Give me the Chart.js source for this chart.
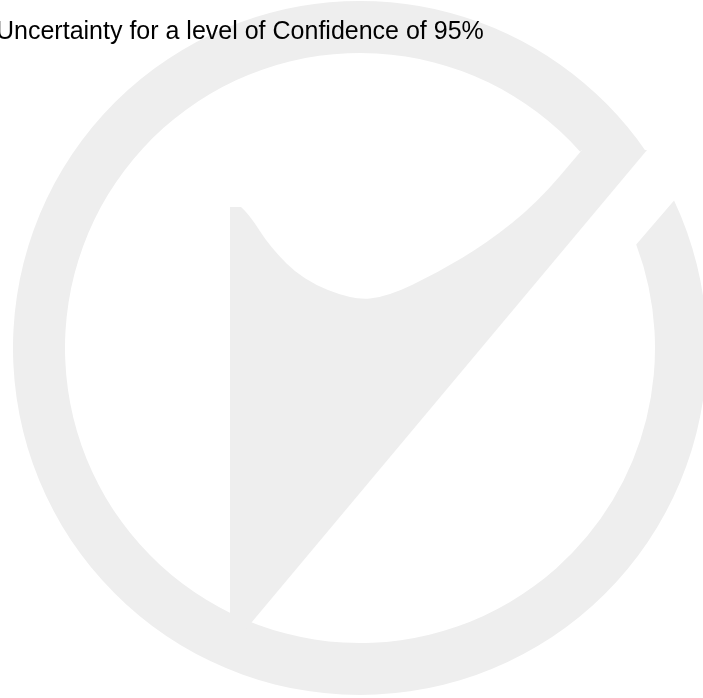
<!DOCTYPE html>
<html>
<head>
<meta charset="utf-8">
<script src="https://cdn.jsdelivr.net/npm/chart.js@4/dist/chart.umd.min.js"></script>
<style>
  html, body { margin: 0; padding: 0; background: #fff; overflow: hidden; }
  #wrap { position: absolute; left: -4px; top: 0; width: 707px; height: 698px; }
</style>
</head>
<body>
<div id="wrap"><canvas id="chart"></canvas></div>
<script>
// the chart has no plotted values, only its title and the logo behind it
const categories = [];
const uncertainty = [];
const chartTitle = 'Uncertainty for a level of Confidence of 95%';

// grey logo drawn behind the (empty) plot
const SHIFT = 4; // wrapper is moved 4px left so the title gets cut like the original
const watermark = {
  id: 'watermark',
  beforeDraw(chart) {
    const ctx = chart.ctx;
    ctx.save();
    ctx.fillStyle = '#ffffff';
    ctx.fillRect(0, 0, chart.width, chart.height);
    ctx.translate(SHIFT, 0);
    ctx.fillStyle = '#eeeeee';

    const cx = 360, cy = 348, R = 347, r = 295;
    const ang = (x, y) => Math.atan2(y - cy, x - cx);

    // ring, open at the upper right
    ctx.beginPath();
    ctx.arc(cx, cy, R, ang(675, 200), ang(647, 150) + 2 * Math.PI, false);
    ctx.lineTo(582, 150);
    ctx.arc(cx, cy, r, ang(582, 150) + 2 * Math.PI, ang(640, 243), true);
    ctx.closePath();
    ctx.fill();

    // bar + curved bowl + diagonal stroke
    const pts = [[249, 214], [270, 247], [303, 280], [353, 300], [387, 297],
                 [437, 273], [487, 243], [537, 203], [582, 150]];
    ctx.beginPath();
    ctx.moveTo(230, 635);
    ctx.lineTo(230, 207);
    ctx.lineTo(241, 207);
    for (let i = 0; i < pts.length - 1; i++) {
      const mx = (pts[i][0] + pts[i + 1][0]) / 2;
      const my = (pts[i][1] + pts[i + 1][1]) / 2;
      ctx.quadraticCurveTo(pts[i][0], pts[i][1], mx, my);
    }
    ctx.lineTo(582, 150);
    ctx.lineTo(647, 150);
    ctx.lineTo(241, 635);
    ctx.closePath();
    ctx.fill();
    ctx.restore();
  }
};

new Chart(document.getElementById('chart'), {
  type: 'line',
  data: {
    labels: categories,
    datasets: [{
      label: 'Uncertainty',
      data: uncertainty,
      borderColor: '#000',
      backgroundColor: '#000'
    }]
  },
  options: {
    responsive: true,
    maintainAspectRatio: false,
    animation: false,
    layout: { padding: 0 },
    scales: {
      x: { display: false },
      y: { display: false }
    },
    plugins: {
      legend: { display: false },
      tooltip: { enabled: false },
      title: {
        display: true,
        text: chartTitle,
        align: 'start',
        color: '#000',
        font: { family: '"Liberation Sans", Arial, sans-serif', size: 25, weight: 'normal' },
        padding: { top: 17, bottom: 10 }
      }
    }
  },
  plugins: [watermark]
});
</script>
</body>
</html>
